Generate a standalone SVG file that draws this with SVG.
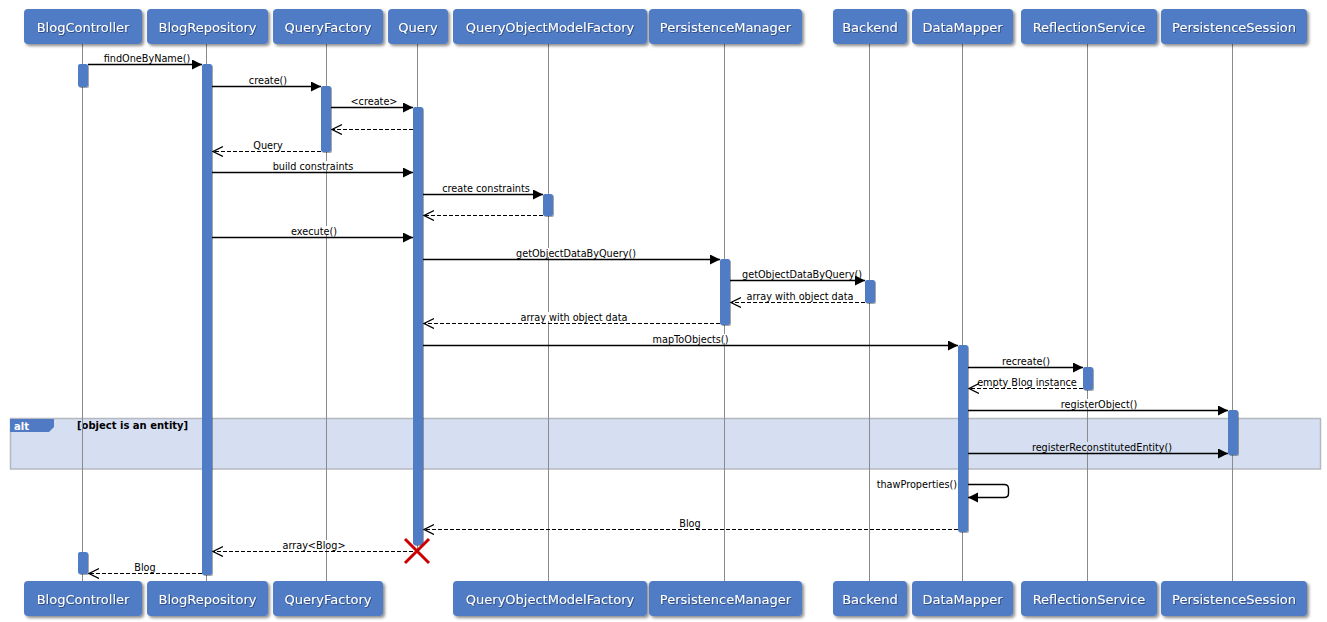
<svg xmlns="http://www.w3.org/2000/svg" width="1327" height="622" viewBox="0 0 1327 622">
<style>
.box{fill:#507BC4;filter:url(#sh)}
.hd{font-family:"DejaVu Sans",sans-serif;font-size:13px;fill:#fff;text-anchor:middle;filter:url(#tsh)}
.life{stroke:#8a8a8a;stroke-width:1;fill:none}
.act{fill:#507BC4;filter:url(#ash)}
.call{stroke:#000;stroke-width:1.4;fill:none;marker-end:url(#fill)}
.ret{stroke:#000;stroke-width:1.2;stroke-dasharray:4,2;fill:none;marker-end:url(#open)}
.lbl{font-family:"DejaVu Sans",sans-serif;font-size:9.7px;fill:#000;text-anchor:middle}
.bg{fill:#fff}
.bga{fill:#D6DFF1}
</style>
<defs>
<filter id="sh" x="-10%" y="-20%" width="130%" height="160%"><feDropShadow dx="2" dy="2" stdDeviation="1.5" flood-color="#000" flood-opacity="0.45"/></filter>
<filter id="tsh" x="-10%" y="-30%" width="120%" height="160%"><feDropShadow dx="0.8" dy="0.8" stdDeviation="0.4" flood-color="#1a2a50" flood-opacity="0.7"/></filter>
<filter id="ash" x="-50%" y="-10%" width="200%" height="120%"><feDropShadow dx="1" dy="1" stdDeviation="0.7" flood-color="#000" flood-opacity="0.35"/></filter>
<marker id="fill" markerUnits="userSpaceOnUse" markerWidth="11" markerHeight="11" refX="10" refY="5" orient="auto"><path d="M0,0 L10,5 L0,10 z" fill="#000"/></marker>
<marker id="open" markerUnits="userSpaceOnUse" markerWidth="12" markerHeight="12" refX="10" refY="5.5" orient="auto"><path d="M0,0.5 L10,5.5 L0,10.5" fill="none" stroke="#000" stroke-width="1.3"/></marker>
</defs>
<rect width="1327" height="622" fill="#fff"/>

<g id="alt-frame">
<rect x="10.5" y="418.5" width="1310" height="50.5" fill="#D6DFF1" stroke="#B4B8C0" stroke-width="1.5"/>
<path d="M10,419 H54 V427 L49,432 H10 z" fill="#507BC4"/>
<text x="14" y="429.5" font-family="DejaVu Sans,sans-serif" font-size="10px" font-weight="bold" fill="#fff">alt</text>
<text x="77" y="429" font-family="DejaVu Sans,sans-serif" font-size="10px" font-weight="bold" fill="#000">[object is an entity]</text>
</g>

<g id="BlogController">
<line class="life" x1="82.5" y1="44" x2="82.5" y2="581"/>
<rect class="box" x="24" y="9" width="118" height="35" rx="4"/>
<text class="hd" x="83" y="31.5">BlogController</text>
<rect class="act" x="78" y="64" width="10" height="23" rx="2"/>
<rect class="act" x="78" y="552" width="10" height="22" rx="2"/>
<rect class="box" x="24" y="581" width="118" height="35" rx="4"/>
<text class="hd" x="83" y="603.5">BlogController</text>
</g>

<g id="BlogRepository">
<line class="life" x1="206.5" y1="44" x2="206.5" y2="581"/>
<rect class="box" x="147" y="9" width="121" height="35" rx="4"/>
<text class="hd" x="207.5" y="31.5">BlogRepository</text>
<rect class="act" x="202" y="64" width="10" height="511" rx="2"/>
<rect class="box" x="147" y="581" width="121" height="35" rx="4"/>
<text class="hd" x="207.5" y="603.5">BlogRepository</text>
</g>

<g id="QueryFactory">
<line class="life" x1="326.5" y1="44" x2="326.5" y2="581"/>
<rect class="box" x="273" y="9" width="110" height="35" rx="4"/>
<text class="hd" x="328" y="31.5">QueryFactory</text>
<rect class="act" x="321" y="86" width="10" height="66" rx="2"/>
<rect class="box" x="273" y="581" width="110" height="35" rx="4"/>
<text class="hd" x="328" y="603.5">QueryFactory</text>
</g>

<g id="Query">
<line class="life" x1="417.5" y1="44" x2="417.5" y2="551"/>
<rect class="box" x="388" y="9" width="60" height="35" rx="4"/>
<text class="hd" x="418" y="31.5">Query</text>
<rect class="act" x="413" y="107" width="10" height="438" rx="2"/>
<path d="M405,539 L429,563 M429,539 L405,563" stroke="#CC0000" stroke-width="3" fill="none"/>
</g>

<g id="QueryObjectModelFactory">
<line class="life" x1="548.5" y1="44" x2="548.5" y2="581"/>
<rect class="box" x="453" y="9" width="194" height="35" rx="4"/>
<text class="hd" x="550" y="31.5">QueryObjectModelFactory</text>
<rect class="act" x="543" y="194" width="10" height="22" rx="2"/>
<rect class="box" x="453" y="581" width="194" height="35" rx="4"/>
<text class="hd" x="550" y="603.5">QueryObjectModelFactory</text>
</g>

<g id="PersistenceManager">
<line class="life" x1="724.5" y1="44" x2="724.5" y2="581"/>
<rect class="box" x="649" y="9" width="153" height="35" rx="4"/>
<text class="hd" x="725.5" y="31.5">PersistenceManager</text>
<rect class="act" x="720" y="259" width="10" height="66" rx="2"/>
<rect class="box" x="649" y="581" width="153" height="35" rx="4"/>
<text class="hd" x="725.5" y="603.5">PersistenceManager</text>
</g>

<g id="Backend">
<line class="life" x1="869.5" y1="44" x2="869.5" y2="581"/>
<rect class="box" x="833" y="9" width="74" height="35" rx="4"/>
<text class="hd" x="870" y="31.5">Backend</text>
<rect class="act" x="865" y="280" width="10" height="23" rx="2"/>
<rect class="box" x="833" y="581" width="74" height="35" rx="4"/>
<text class="hd" x="870" y="603.5">Backend</text>
</g>

<g id="DataMapper">
<line class="life" x1="962.5" y1="44" x2="962.5" y2="581"/>
<rect class="box" x="912" y="9" width="101" height="35" rx="4"/>
<text class="hd" x="962.5" y="31.5">DataMapper</text>
<rect class="act" x="958" y="345" width="10" height="187" rx="2"/>
<rect class="box" x="912" y="581" width="101" height="35" rx="4"/>
<text class="hd" x="962.5" y="603.5">DataMapper</text>
</g>

<g id="ReflectionService">
<line class="life" x1="1087.5" y1="44" x2="1087.5" y2="581"/>
<rect class="box" x="1021" y="9" width="136" height="35" rx="4"/>
<text class="hd" x="1089" y="31.5">ReflectionService</text>
<rect class="act" x="1083" y="367" width="10" height="23" rx="2"/>
<rect class="box" x="1021" y="581" width="136" height="35" rx="4"/>
<text class="hd" x="1089" y="603.5">ReflectionService</text>
</g>

<g id="PersistenceSession">
<line class="life" x1="1232.5" y1="44" x2="1232.5" y2="581"/>
<rect class="box" x="1161" y="9" width="146" height="35" rx="4"/>
<text class="hd" x="1234" y="31.5">PersistenceSession</text>
<rect class="act" x="1228" y="410" width="10" height="45" rx="2"/>
<rect class="box" x="1161" y="581" width="146" height="35" rx="4"/>
<text class="hd" x="1234" y="603.5">PersistenceSession</text>
</g>

<g id="connectors">
<line class="call" x1="88" y1="64.5" x2="202" y2="64.5"/>
<text class="lbl" x="147" y="61.5">findOneByName()</text>

<line class="call" x1="212" y1="86.5" x2="321" y2="86.5"/>
<text class="lbl" x="268" y="83.5">create()</text>

<line class="call" x1="331" y1="107.5" x2="413" y2="107.5"/>
<text class="lbl" x="374" y="104.5">&lt;create&gt;</text>

<line class="ret" x1="413" y1="129.5" x2="332" y2="129.5"/>

<line class="ret" x1="321" y1="151.5" x2="213" y2="151.5"/>
<text class="lbl" x="268" y="148.5">Query</text>

<rect class="bg" x="273" y="161" width="80" height="9"/>
<line class="call" x1="212" y1="172.5" x2="413" y2="172.5"/>
<text class="lbl" x="313" y="169.5">build constraints</text>

<line class="call" x1="423" y1="194.5" x2="543" y2="194.5"/>
<text class="lbl" x="486" y="191.5">create constraints</text>

<line class="ret" x1="543" y1="215.5" x2="424" y2="215.5"/>

<rect class="bg" x="290" y="226" width="48" height="9"/>
<line class="call" x1="212" y1="237.5" x2="413" y2="237.5"/>
<text class="lbl" x="314" y="234.5">execute()</text>

<rect class="bg" x="515" y="248" width="123" height="9"/>
<line class="call" x1="423" y1="259.5" x2="720" y2="259.5"/>
<text class="lbl" x="576" y="256.5">getObjectDataByQuery()</text>

<line class="call" x1="730" y1="280.5" x2="865" y2="280.5"/>
<text class="lbl" x="802" y="277.5">getObjectDataByQuery()</text>

<line class="ret" x1="865" y1="302.5" x2="731" y2="302.5"/>
<text class="lbl" x="800" y="299.5">array with object data</text>

<rect class="bg" x="520" y="312" width="108" height="9"/>
<line class="ret" x1="720" y1="323.5" x2="424" y2="323.5"/>
<text class="lbl" x="574" y="320.5">array with object data</text>

<rect class="bg" x="651" y="334" width="79" height="9"/>
<line class="call" x1="423" y1="345.5" x2="958" y2="345.5"/>
<text class="lbl" x="690.5" y="342.5">mapToObjects()</text>

<line class="call" x1="968" y1="367.5" x2="1083" y2="367.5"/>
<text class="lbl" x="1026" y="364.5">recreate()</text>

<line class="ret" x1="1083" y1="388.5" x2="969" y2="388.5"/>
<text class="lbl" x="1027" y="385.5">empty Blog instance</text>

<rect class="bg" x="1059" y="399" width="80" height="9"/>
<line class="call" x1="968" y1="410.5" x2="1228" y2="410.5"/>
<text class="lbl" x="1099" y="407.5">registerObject()</text>

<rect class="bga" x="1031" y="442" width="143" height="9"/>
<line class="call" x1="968" y1="453.5" x2="1228" y2="453.5"/>
<text class="lbl" x="1102" y="450.5">registerReconstitutedEntity()</text>

<path class="call" d="M968,484.5 H1004 Q1008.5,484.5 1008.5,488.5 V493.5 Q1008.5,497.5 1004,497.5 H968"/>
<text class="lbl" x="957" y="488" style="text-anchor:end">thawProperties()</text>

<line class="ret" x1="958" y1="529.5" x2="424" y2="529.5"/>
<text class="lbl" x="690" y="526.5">Blog</text>

<rect class="bg" x="282" y="540" width="64" height="9"/>
<line class="ret" x1="413" y1="551.5" x2="213" y2="551.5"/>
<text class="lbl" x="314" y="548.5">array&lt;Blog&gt;</text>

<line class="ret" x1="202" y1="573.5" x2="89" y2="573.5"/>
<text class="lbl" x="145" y="570.5">Blog</text>
</g>
</svg>
